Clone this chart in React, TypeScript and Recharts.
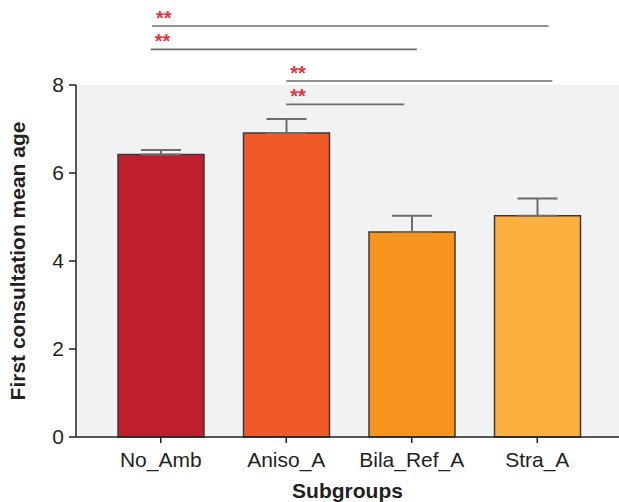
import React from "react";
import { BarChart, Bar, XAxis, YAxis, CartesianGrid, Cell, ErrorBar, ReferenceLine } from "recharts";

const groups = ["No_Amb", "Aniso_A", "Bila_Ref_A", "Stra_A"];
const means = [6.42, 6.91, 4.66, 5.03];
const sems = [0.1, 0.32, 0.37, 0.39];
const colors = ["#BE1E2D", "#F05A28", "#F7941D", "#FBB040"];
const yTicks = [0, 2, 4, 6, 8];

// significance brackets: start/end in group index units, height in y units
const sigFrom = [-0.07, -0.08, 1.0, 1.0];
const sigTo = [3.09, 2.04, 3.12, 1.94];
const sigLevel = [9.34, 8.81, 8.09, 7.56];
const sigText = ["**", "**", "**", "**"];

const W = 619;
const H = 502;
const LEFT = 76;
const TOP = 85;
const PAD_L = 22;
const PAD_R = 19;
const band = (W - LEFT - PAD_L - PAD_R) / groups.length;
const idxDomain = [-0.5 - PAD_L / band, groups.length - 0.5 + PAD_R / band];

const data = groups.map((g, i) => ({ name: g, idx: i, mean: means[i], err: [0, sems[i]] }));

const font = "'Liberation Sans', Arial, sans-serif";
const ink = "#231f20";

const Stars = ({ viewBox, text }: any) => (
  <text x={viewBox.x + 4} y={viewBox.y - 1} fill="#e2363d" fontSize={20} fontWeight="bold" fontFamily={font}>
    {text}
  </text>
);

export default function App() {
  return (
    <div style={{ position: "absolute", left: 0, top: 0, background: "#fff" }}>
      <BarChart width={W} height={H} data={data} margin={{ top: TOP, right: 0, left: 0, bottom: 0 }} barCategoryGap={0}>
        <CartesianGrid horizontal={false} vertical={false} fill="#f1f2f4" />
        <XAxis
          dataKey="name"
          height={65}
          padding={{ left: PAD_L, right: PAD_R }}
          stroke="#231f20"
          strokeWidth={1.5}
          tickSize={6}
          tickMargin={9}
          tick={{ fill: ink, fontSize: 21, fontFamily: font }}
          label={{ value: "Subgroups", position: "insideBottom", offset: 4, style: { fill: ink, fontSize: 21, fontWeight: "bold", fontFamily: font } }}
        />
        <XAxis xAxisId="idx" dataKey="idx" type="number" scale="linear" domain={idxDomain} hide allowDataOverflow />
        <YAxis
          width={LEFT}
          domain={[0, 8]}
          ticks={yTicks}
          stroke="#231f20"
          strokeWidth={1.5}
          tickSize={7}
          tickMargin={5}
          tick={{ fill: ink, fontSize: 21, fontFamily: font }}
          label={{
            value: "First consultation mean age",
            angle: -90,
            position: "insideLeft",
            offset: 18,
            style: { textAnchor: "middle", fill: ink, fontSize: 21, fontWeight: "bold", fontFamily: font },
          }}
        />
        <Bar dataKey="mean" barSize={86} stroke="#3a3a3a" strokeWidth={1.5} isAnimationActive={false}>
          {data.map((d, i) => (
            <Cell key={d.name} fill={colors[i]} />
          ))}
          <ErrorBar dataKey="err" direction="y" width={20} stroke="#6d6d6d" strokeWidth={2} isAnimationActive={false} />
        </Bar>
        {sigLevel.map((lv, i) => (
          <ReferenceLine
            key={i}
            xAxisId="idx"
            ifOverflow="visible"
            segment={[
              { x: sigFrom[i], y: lv },
              { x: sigTo[i], y: lv },
            ]}
            stroke="#6d6d6d"
            strokeWidth={1.6}
            label={<Stars text={sigText[i]} />}
          />
        ))}
      </BarChart>
    </div>
  );
}
